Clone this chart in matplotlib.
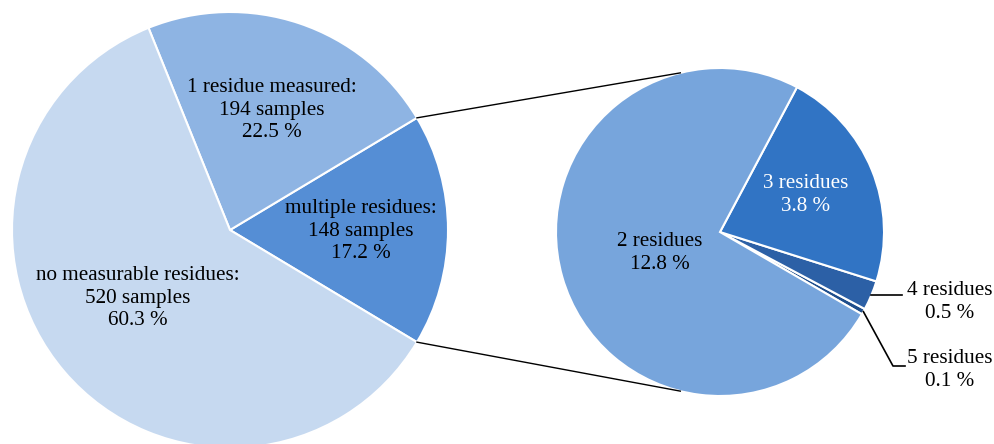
import numpy as np
import matplotlib.pyplot as plt

plt.rcParams['font.family'] = ['Liberation Serif', 'DejaVu Serif']

# overall split of the samples
main_labels = ["multiple residues:\n148 samples\n17.2 %",
               "1 residue measured:\n194 samples\n22.5 %",
               "no measurable residues:\n520 samples\n60.3 %"]
main_values = [17.2, 22.5, 60.3]
main_colors = ["#558ed5", "#8eb4e3", "#c6d9f0"]

# breakdown of the "multiple residues" group
sub_labels = ["5 residues\n0.1 %", "4 residues\n0.5 %",
              "3 residues\n3.8 %", "2 residues\n12.8 %"]
sub_values = [0.1, 0.5, 3.8, 12.8]
sub_colors = ["#1f4e8c", "#2c60a6", "#3174c4", "#77a5dc"]

fig = plt.figure(figsize=(9.95, 4.44), dpi=100)
ax = fig.add_axes([0, 0, 1, 1])

c1, r1 = (230, 214), 218
c2, r2 = (720, 212), 164
fs = 15.2
ls = 1.28

start1 = -main_values[0] / 100 * 360 / 2
w1, _ = ax.pie(main_values, colors=main_colors, center=c1, radius=r1,
               startangle=start1, counterclock=True,
               wedgeprops=dict(edgecolor='white', linewidth=1.5))

start2 = 62 - sum(sub_values[:3]) / sum(sub_values) * 360
w2, _ = ax.pie(sub_values, colors=sub_colors, center=c2, radius=r2,
               startangle=start2, counterclock=True,
               wedgeprops=dict(edgecolor='white', linewidth=1.5))

# pie() resets the limits, so set them afterwards
ax.set_xlim(0, 995)
ax.set_ylim(0, 444)
ax.set_aspect('equal')
ax.axis('off')

# main pie labels
ax.text(361, 213, main_labels[0], ha='center', va='center', fontsize=fs,
        linespacing=ls)
ax.text(272, 334, main_labels[1], ha='center', va='center', fontsize=fs,
        linespacing=ls)
ax.text(138, 146, main_labels[2], ha='center', va='center', fontsize=fs,
        linespacing=ls)

# sub pie labels
ax.text(660, 191, sub_labels[3], ha='center', va='center', fontsize=fs,
        linespacing=ls)
ax.text(806, 249, sub_labels[2], ha='center', va='center', fontsize=fs,
        linespacing=ls, color='white')
ax.text(950, 142, sub_labels[1], ha='center', va='center', fontsize=fs,
        linespacing=ls)
ax.text(950, 74, sub_labels[0], ha='center', va='center', fontsize=fs,
        linespacing=ls)


def edge_point(center, radius, ang):
    a = np.deg2rad(ang)
    return center[0] + radius * np.cos(a), center[1] + radius * np.sin(a)


# leader lines for the thin slices
p4 = edge_point(c2, r2, (w2[1].theta1 + w2[1].theta2) / 2)
ax.plot([p4[0], 902], [p4[1], p4[1]], color='black', lw=1.2)
p5 = edge_point(c2, r2, (w2[0].theta1 + w2[0].theta2) / 2)
ax.plot([p5[0], 893, 905], [p5[1], 78, 78], color='black', lw=1.2)

# connectors between the two pies
for a1, a2 in [(w1[0].theta2, 104), (w1[0].theta1, -104)]:
    x0, y0 = edge_point(c1, r1, a1)
    x1, y1 = edge_point(c2, r2, a2)
    ax.plot([x0, x1], [y0, y1], color='black', lw=1.0)

fig.savefig('out.png', dpi=100)
